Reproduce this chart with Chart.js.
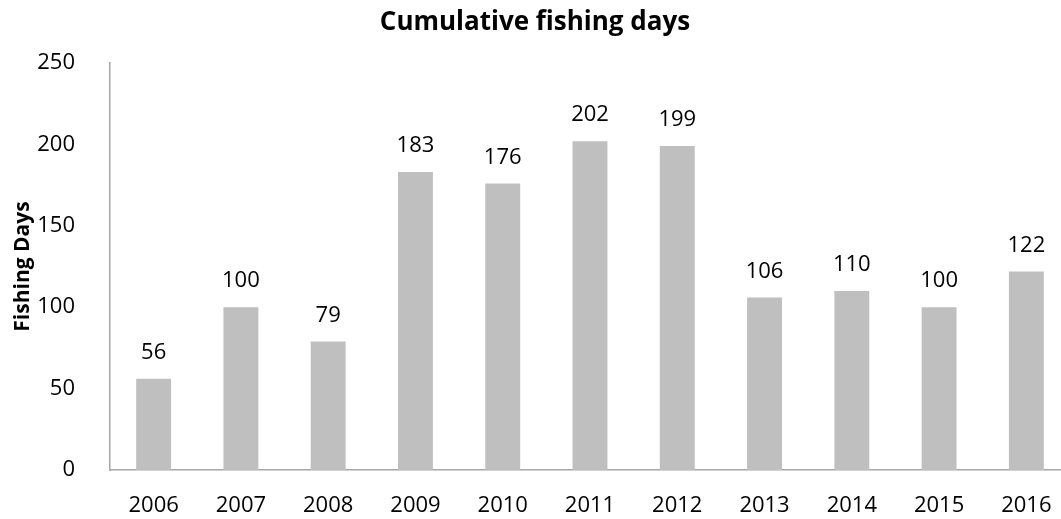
<!DOCTYPE html>
<html>
<head>
<meta charset="utf-8">
<script src="https://cdn.jsdelivr.net/npm/chart.js@4/dist/chart.umd.min.js"></script>
<style>
  body { margin: 0; background: #fff; overflow: hidden; }
  #wrap { width: 1100px; height: 519px; position: relative; }
</style>
</head>
<body>
<div id="wrap"><canvas id="chart"></canvas></div>
<script>
const anios = ["2006", "2007", "2008", "2009", "2010", "2011", "2012", "2013", "2014", "2015", "2016"];
const diasPesca = [56, 100, 79, 183, 176, 202, 199, 106, 110, 100, 122];
const yTicks = [0, 50, 100, 150, 200, 250];

const fuente = "'Open Sans', 'DejaVu Sans', sans-serif";

// etiquetas encima de cada barra
const etiquetas = {
    id: "etiquetas",
    afterDatasetsDraw(chart) {
        const ctx = chart.ctx;
        const meta = chart.getDatasetMeta(0);
        ctx.save();
        ctx.font = "22px " + fuente;
        ctx.fillStyle = "#000";
        ctx.textAlign = "center";
        ctx.textBaseline = "middle";
        meta.data.forEach((bar, i) => {
            ctx.fillText(String(diasPesca[i]), bar.x, bar.y - 26);
        });
        ctx.restore();
    }
};

new Chart(document.getElementById("chart"), {
    type: "bar",
    data: {
        labels: anios,
        datasets: [{
            label: "Fishing Days",
            data: diasPesca,
            backgroundColor: "#bfbfbf",
            barPercentage: 0.4,
            categoryPercentage: 1
        }]
    },
    options: {
        responsive: true,
        maintainAspectRatio: false,
        animation: false,
        layout: { padding: { left: 0, right: 30, top: 0, bottom: 0 } },
        plugins: {
            legend: { display: false },
            tooltip: { enabled: false },
            title: {
                display: true,
                text: "Cumulative fishing days",
                color: "#000",
                font: { family: fuente, size: 26, weight: "bold" },
                padding: { top: 7.4, bottom: 24.4 }
            }
        },
        scales: {
            x: {
                grid: { display: false },
                border: { display: true, color: "#a6a6a6", width: 1.5 },
                ticks: { color: "#000", padding: 15, maxRotation: 0, font: { family: fuente, size: 22 } },
                afterFit(scale) { scale.height = 49; }
            },
            y: {
                min: 0,
                max: 250,
                afterBuildTicks(scale) { scale.ticks = yTicks.map(v => ({ value: v })); },
                grid: { display: false },
                border: { display: true, color: "#a6a6a6", width: 1.5 },
                ticks: { color: "#000", padding: 27, font: { family: fuente, size: 22 } },
                title: {
                    display: true,
                    text: "Fishing Days",
                    color: "#000",
                    font: { family: fuente, size: 21, weight: "bold" },
                    padding: { top: 10, bottom: 4 }
                },
                afterFit(scale) { scale.width = 110; }
            }
        }
    },
    plugins: [etiquetas]
});
</script>
</body>
</html>
